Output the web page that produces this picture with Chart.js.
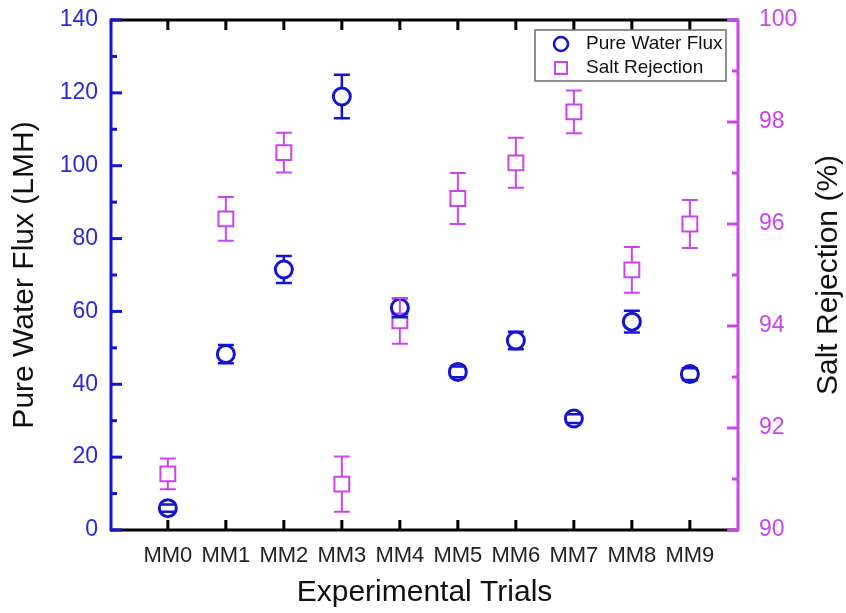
<!DOCTYPE html>
<html>
<head>
<meta charset="utf-8">
<script src="https://cdn.jsdelivr.net/npm/chart.js@4/dist/chart.umd.min.js"></script>
<style>
  html, body { margin: 0; padding: 0; background: #fff; }
  #wrap { width: 846px; height: 613px; }
</style>
</head>
<body>
<div id="wrap"><canvas id="fluxChart"></canvas></div>
<script>
// data
const trials = ['MM0', 'MM1', 'MM2', 'MM3', 'MM4', 'MM5', 'MM6', 'MM7', 'MM8', 'MM9'];
const fluxValues = [6, 48.3, 71.5, 119, 61, 43.4, 52, 30.6, 57.2, 42.8];
const fluxErrors = [1, 2.5, 3.7, 6, 2.6, 1.5, 2.4, 1.2, 3, 1.6];
const saltValues = [91.1, 96.1, 97.4, 90.9, 94.1, 96.5, 97.2, 98.2, 95.1, 96.0];
const saltErrors = [0.3, 0.43, 0.39, 0.54, 0.45, 0.5, 0.49, 0.42, 0.45, 0.47];
const fluxTicks = [0, 20, 40, 60, 80, 100, 120, 140];
const saltTicks = [90, 92, 94, 96, 98, 100];

const BLUE = '#1414d2';
const BLUE_TEXT = '#2a2ad8';
const MAGENTA = '#cc44ee';
const FONT = '"Liberation Sans", Arial, sans-serif';

const errorBars = {
  id: 'errorBars',
  afterDatasetsDraw(chart) {
    const ctx = chart.ctx;
    const xs = chart.scales.x;
    const sets = [[0, fluxErrors, 9, 2.5], [1, saltErrors, 7.5, 2]];
    sets.forEach(([di, errs, half, lw]) => {
      const ds = chart.data.datasets[di];
      const ys = chart.scales[ds.yAxisID];
      ctx.save();
      ctx.strokeStyle = ds.borderColor;
      ctx.lineWidth = lw;
      ds.data.forEach((p, i) => {
        const px = xs.getPixelForValue(p.x);
        const py = ys.getPixelForValue(p.y);
        const top = ys.getPixelForValue(p.y + errs[i]);
        const bot = ys.getPixelForValue(p.y - errs[i]);
        ctx.beginPath();
        if (top < py - half) { ctx.moveTo(px, top); ctx.lineTo(px, py - half); }
        if (bot > py + half) { ctx.moveTo(px, py + half); ctx.lineTo(px, bot); }
        ctx.moveTo(px - 8, top); ctx.lineTo(px + 8, top);
        ctx.moveTo(px - 8, bot); ctx.lineTo(px + 8, bot);
        ctx.stroke();
      });
      ctx.restore();
    });
  }
};

const frame = {
  id: 'frame',
  beforeDatasetsDraw(chart) {
    const { ctx, chartArea: a, scales } = chart;
    const line = (x1, y1, x2, y2) => { ctx.beginPath(); ctx.moveTo(x1, y1); ctx.lineTo(x2, y2); ctx.stroke(); };
    ctx.save();
    ctx.lineWidth = 3;
    ctx.strokeStyle = '#000';
    line(a.left, a.top, a.right, a.top);
    line(a.left, a.bottom, a.right, a.bottom);
    scales.x.ticks.forEach(t => {
      const px = scales.x.getPixelForValue(t.value);
      line(px, a.bottom, px, a.bottom - 10);
      line(px, a.top, px, a.top + 10);
    });
    // left axis, blue
    ctx.strokeStyle = BLUE;
    line(a.left, a.top - 1.5, a.left, a.bottom + 1.5);
    fluxTicks.forEach((v, i) => {
      const py = scales.y.getPixelForValue(v);
      line(a.left, py, a.left + 11, py);
      if (i < fluxTicks.length - 1) {
        const pm = scales.y.getPixelForValue((v + fluxTicks[i + 1]) / 2);
        line(a.left, pm, a.left + 6, pm);
      }
    });
    // right axis, magenta
    ctx.strokeStyle = MAGENTA;
    line(a.right, a.top - 1.5, a.right, a.bottom + 1.5);
    saltTicks.forEach((v, i) => {
      const py = scales.y2.getPixelForValue(v);
      line(a.right, py, a.right - 11, py);
      if (i < saltTicks.length - 1) {
        const pm = scales.y2.getPixelForValue((v + saltTicks[i + 1]) / 2);
        line(a.right, pm, a.right - 6, pm);
      }
    });
    // right axis title, reading bottom to top
    ctx.fillStyle = '#111';
    ctx.font = '30px ' + FONT;
    ctx.textAlign = 'center';
    ctx.textBaseline = 'middle';
    ctx.translate(829, (a.top + a.bottom) / 2);
    ctx.rotate(-Math.PI / 2);
    ctx.fillText('Salt Rejection (%)', 0, 0);
    ctx.restore();
  },
  afterDraw(chart) {
    const { ctx, chartArea: a } = chart;
    const bx = a.right - 203, by = a.top + 10;
    ctx.save();
    ctx.fillStyle = '#fff';
    ctx.fillRect(bx, by, 191, 51);
    ctx.strokeStyle = '#6a6a6a';
    ctx.lineWidth = 1.5;
    ctx.strokeRect(bx, by, 191, 51);
    ctx.font = '19px ' + FONT;
    ctx.textBaseline = 'middle';
    ctx.fillStyle = '#111';
    const ds = chart.data.datasets;
    // circle
    ctx.strokeStyle = BLUE;
    ctx.lineWidth = 2.5;
    ctx.beginPath();
    ctx.arc(bx + 26, by + 14, 7, 0, Math.PI * 2);
    ctx.stroke();
    ctx.fillText(ds[0].label, bx + 51, by + 14);
    // square
    ctx.strokeStyle = MAGENTA;
    ctx.lineWidth = 2;
    ctx.strokeRect(bx + 20, by + 32, 12, 12);
    ctx.fillText(ds[1].label, bx + 51, by + 38);
    ctx.restore();
  }
};

// keep the plot box where the figure has it, label overflow is fine
const noPad = s => { s.paddingTop = 0; s.paddingBottom = 0; };

new Chart(document.getElementById('fluxChart'), {
  type: 'scatter',
  data: {
    datasets: [{
      label: 'Pure Water Flux',
      data: fluxValues.map((v, i) => ({ x: i, y: v })),
      yAxisID: 'y',
      borderColor: BLUE,
      backgroundColor: 'rgba(255,255,255,0)',
      pointStyle: 'circle',
      pointRadius: 8.5,
      pointBorderWidth: 3
    }, {
      label: 'Salt Rejection',
      data: saltValues.map((v, i) => ({ x: i, y: v })),
      yAxisID: 'y2',
      borderColor: MAGENTA,
      backgroundColor: 'rgba(255,255,255,0)',
      pointStyle: 'rect',
      pointRadius: 10.5,
      pointBorderWidth: 2
    }]
  },
  options: {
    responsive: true,
    maintainAspectRatio: false,
    animation: false,
    layout: { padding: { top: 20, left: 0, right: 0, bottom: 0 } },
    plugins: { legend: { display: false }, tooltip: { enabled: false } },
    scales: {
      x: {
        type: 'linear',
        position: 'bottom',
        min: -0.98,
        max: 9.83,
        afterBuildTicks: s => { s.ticks = trials.map((_, i) => ({ value: i })); },
        afterFit: s => { s.height = 83; s.paddingLeft = 0; s.paddingRight = 0; },
        grid: { display: false, drawTicks: false },
        border: { display: false },
        ticks: {
          callback: v => trials[v] ?? '',
          autoSkip: false, maxRotation: 0,
          padding: 13,
          color: '#222',
          font: { family: FONT, size: 22 }
        },
        title: {
          display: true, text: 'Experimental Trials', color: '#111',
          font: { family: FONT, size: 30 }, padding: { top: 0, bottom: 2 }
        }
      },
      y: {
        position: 'left',
        min: 0, max: 140,
        afterBuildTicks: s => { s.ticks = fluxTicks.map(v => ({ value: v })); },
        afterFit: s => { s.width = 111; noPad(s); },
        grid: { display: false, drawTicks: false },
        border: { display: false },
        ticks: { padding: 13, color: BLUE_TEXT, font: { family: FONT, size: 23 } },
        title: {
          display: true, text: 'Pure Water Flux (LMH)', color: '#111',
          font: { family: FONT, size: 30 }, padding: { top: 7, bottom: 0 }
        }
      },
      y2: {
        position: 'right',
        min: 90, max: 100,
        afterBuildTicks: s => { s.ticks = saltTicks.map(v => ({ value: v })); },
        afterFit: s => { s.width = 108; noPad(s); },
        grid: { display: false, drawTicks: false },
        border: { display: false },
        ticks: { padding: 21, color: MAGENTA, font: { family: FONT, size: 23 } }
      }
    }
  },
  plugins: [frame, errorBars]
});
</script>
</body>
</html>
